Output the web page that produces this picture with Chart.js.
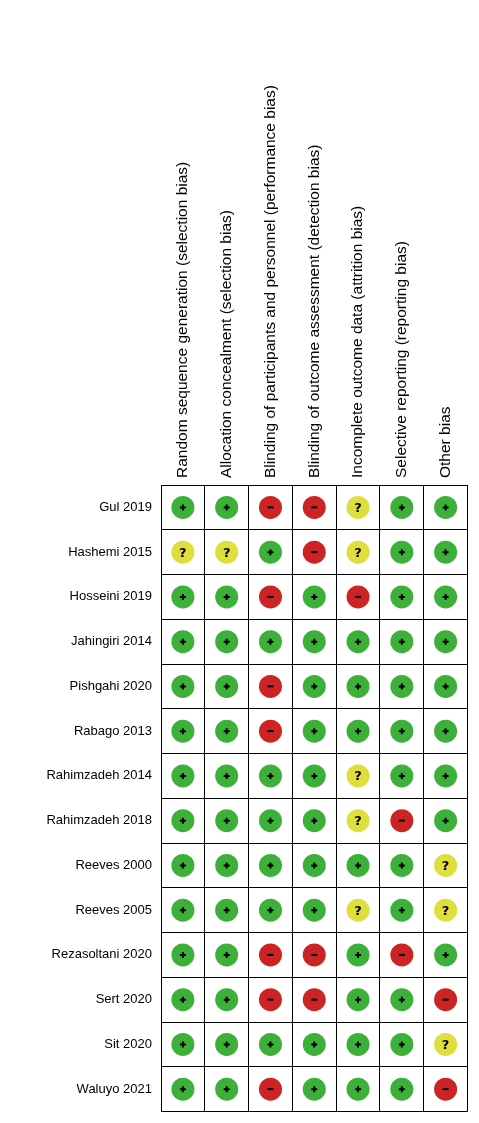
<!DOCTYPE html>
<html><head><meta charset="utf-8">
<script src="https://cdn.jsdelivr.net/npm/chart.js@4"></script>
<style>body{margin:0;background:#fff}#wrap{width:479px;height:1123px}</style>
</head><body><div id="wrap"><canvas id="c"></canvas></div>
<script>
// Domains (columns)
const domains = [
  "Random sequence generation (selection bias)",
  "Allocation concealment (selection bias)",
  "Blinding of participants and personnel (performance bias)",
  "Blinding of outcome assessment (detection bias)",
  "Incomplete outcome data (attrition bias)",
  "Selective reporting (reporting bias)",
  "Other bias"
];
// Studies (rows)
const studies = ["Gul 2019","Hashemi 2015","Hosseini 2019","Jahingiri 2014","Pishgahi 2020","Rabago 2013",
  "Rahimzadeh 2014","Rahimzadeh 2018","Reeves 2000","Reeves 2005","Rezasoltani 2020","Sert 2020","Sit 2020","Waluyo 2021"];
// Judgements per study, one char per domain
const judgements = ["++--?++","??+-?++","++-+-++","+++++++","++-++++","++-++++",
  "++++?++","++++?-+","++++++?","++++?+?","++--+-+","++--++-","++++++?","++-+++-"];

const fill = {"+":"#3db03a","-":"#cc2424","?":"#dede3c"};
const points = [];
studies.forEach((s,i)=>{[...judgements[i]].forEach((j,k)=>points.push({x:domains[k],y:s,j}));});

const labelsAndSymbols = {
  id:"labelsAndSymbols",
  afterDatasetsDraw(chart){
    const ctx=chart.ctx, xs=chart.scales.x, ys=chart.scales.y, a=chart.chartArea;
    ctx.save();ctx.fillStyle="#000";
    // row labels
    ctx.font="13px 'Liberation Sans'";ctx.textAlign="right";ctx.textBaseline="middle";
    studies.forEach((s,i)=>ctx.fillText(s,a.left-9,ys.getPixelForValue(i)));
    // column headers, rotated
    ctx.font="15.5px 'Liberation Sans'";ctx.textAlign="left";
    domains.forEach((d,k)=>{
      ctx.save();ctx.translate(xs.getPixelForValue(k),a.top-7);ctx.rotate(-Math.PI/2);
      ctx.fillText(d,0,0);ctx.restore();
    });
    // symbols
    ctx.strokeStyle="#000";ctx.lineWidth=2;
    points.forEach(p=>{
      const x=xs.getPixelForValue(domains.indexOf(p.x)), y=ys.getPixelForValue(studies.indexOf(p.y));
      if(p.j==="+"){ctx.beginPath();ctx.moveTo(x-3,y);ctx.lineTo(x+3,y);ctx.moveTo(x,y-3);ctx.lineTo(x,y+3);ctx.stroke();}
      else if(p.j==="-"){ctx.beginPath();ctx.moveTo(x-3,y);ctx.lineTo(x+3,y);ctx.stroke();}
      else{ctx.font="bold 13px 'DejaVu Sans'";ctx.textAlign="center";ctx.textBaseline="middle";ctx.fillText("?",x,y+1);}
    });
    ctx.restore();
  }
};

new Chart(document.getElementById("c"),{
  type:"scatter",
  data:{datasets:[{data:points,pointRadius:11.5,pointHoverRadius:11.5,pointBorderWidth:0,
    pointBackgroundColor:points.map(p=>fill[p.j])}]},
  options:{responsive:true,maintainAspectRatio:false,animation:false,
    layout:{padding:{right:1,bottom:1}},
    plugins:{legend:{display:false},tooltip:{enabled:false}},
    scales:{
      x:{type:"category",labels:domains,position:"top",offset:true,
        grid:{color:"#000",offset:true,drawTicks:false,lineWidth:1},border:{color:"#000"},
        ticks:{display:false},
        afterFit(s){s.height=485;}},
      y:{type:"category",labels:studies,offset:true,
        grid:{color:"#000",offset:true,drawTicks:false,lineWidth:1},border:{color:"#000"},
        ticks:{display:false},
        afterFit(s){s.width=161;}}
    }},
  plugins:[labelsAndSymbols]
});
</script></body></html>
